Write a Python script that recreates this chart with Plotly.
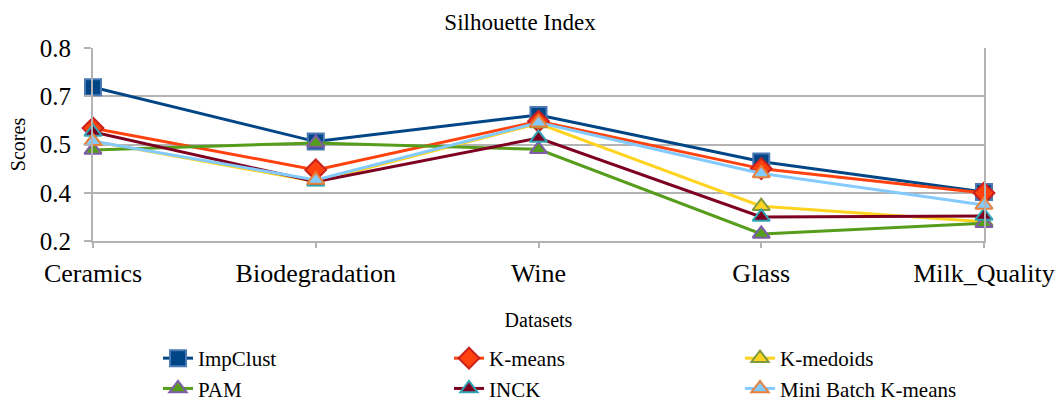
import plotly.graph_objects as go

# Silhouette index per dataset for each clustering method
datasets = ["Ceramics", "Biodegradation", "Wine", "Glass", "Milk_Quality"]
impclust = [0.678, 0.509, 0.592, 0.447, 0.352]
kmeans = [0.551, 0.421, 0.572, 0.425, 0.349]
kmedoids = [0.510, 0.385, 0.565, 0.308, 0.260]
pam = [0.483, 0.505, 0.485, 0.222, 0.255]
inck = [0.539, 0.384, 0.520, 0.275, 0.278]
minibatch = [0.510, 0.390, 0.568, 0.410, 0.312]

ytick_vals = [0.2, 0.35, 0.5, 0.65, 0.8]
ytick_text = ["0.2", "0.4", "0.5", "0.7", "0.8"]

FONT = "Times New Roman"

series = [
    ("ImpClust", impclust, "#004586", "square", "#4a7ab5", 16),
    ("K-means", kmeans, "#ff420e", "diamond", "#c9211e", 16),
    ("K-medoids", kmedoids, "#ffd320", "triangle-up", "#7e9a3d", 15),
    ("PAM", pam, "#579d1c", "triangle-up", "#7e5ca8", 15),
    ("INCK", inck, "#7e0021", "triangle-up", "#31a5b6", 15),
    ("Mini Batch K-means", minibatch, "#83caff", "triangle-up", "#e8823a", 15),
]

fig = go.Figure()
for name, vals, color, symbol, edge, size in series:
    fig.add_trace(go.Scatter(
        x=list(range(len(datasets))), y=vals, name=name, mode="lines+markers",
        line=dict(color=color, width=3),
        marker=dict(symbol=symbol, size=size, color=color,
                    line=dict(color=edge, width=2)),
        cliponaxis=False,
    ))

fig.update_layout(
    width=1057, height=405,
    margin=dict(l=93, r=73, t=48, b=164, autoexpand=False),
    paper_bgcolor="white", plot_bgcolor="white",
    font=dict(family=FONT, color="black"),
    title=dict(text="Silhouette Index", x=0.492, xanchor="center",
               y=1 - 22 / 405, yanchor="middle",
               font=dict(family=FONT, size=23, color="black")),
    legend=dict(orientation="h", xref="container", yref="container",
                x=158 / 1057, xanchor="left", y=1 - 338 / 405, yanchor="top",
                font=dict(family=FONT, size=21, color="black"),
                entrywidth=246, entrywidthmode="pixels",
                bgcolor="rgba(0,0,0,0)"),
    showlegend=True,
)

fig.update_xaxes(
    range=[0, len(datasets) - 1],
    tickvals=list(range(len(datasets))), ticktext=datasets,
    tickfont=dict(family=FONT, size=26, color="black"),
    ticks="outside", ticklen=5, tickcolor="#b3b3b3", tickwidth=2,
    ticklabelstandoff=3,
    showgrid=False, zeroline=False, automargin=False,
    showline=True, linecolor="#b3b3b3", linewidth=2,
    title=dict(text="Datasets", font=dict(family=FONT, size=20, color="black"),
               standoff=26),
)
fig.update_yaxes(
    range=[0.2, 0.8],
    tickvals=ytick_vals, ticktext=ytick_text,
    tickfont=dict(family=FONT, size=25, color="black"),
    ticks="outside", ticklen=7, tickcolor="#b3b3b3", tickwidth=2,
    ticklabelstandoff=8,
    showgrid=True, gridcolor="#b3b3b3", gridwidth=2,
    zeroline=False, automargin=False,
    showline=True, linecolor="#b3b3b3", linewidth=2, mirror=True,
    title=dict(text="Scores", font=dict(family=FONT, size=20, color="black"),
               standoff=9),
)

fig.write_html("out.html")
